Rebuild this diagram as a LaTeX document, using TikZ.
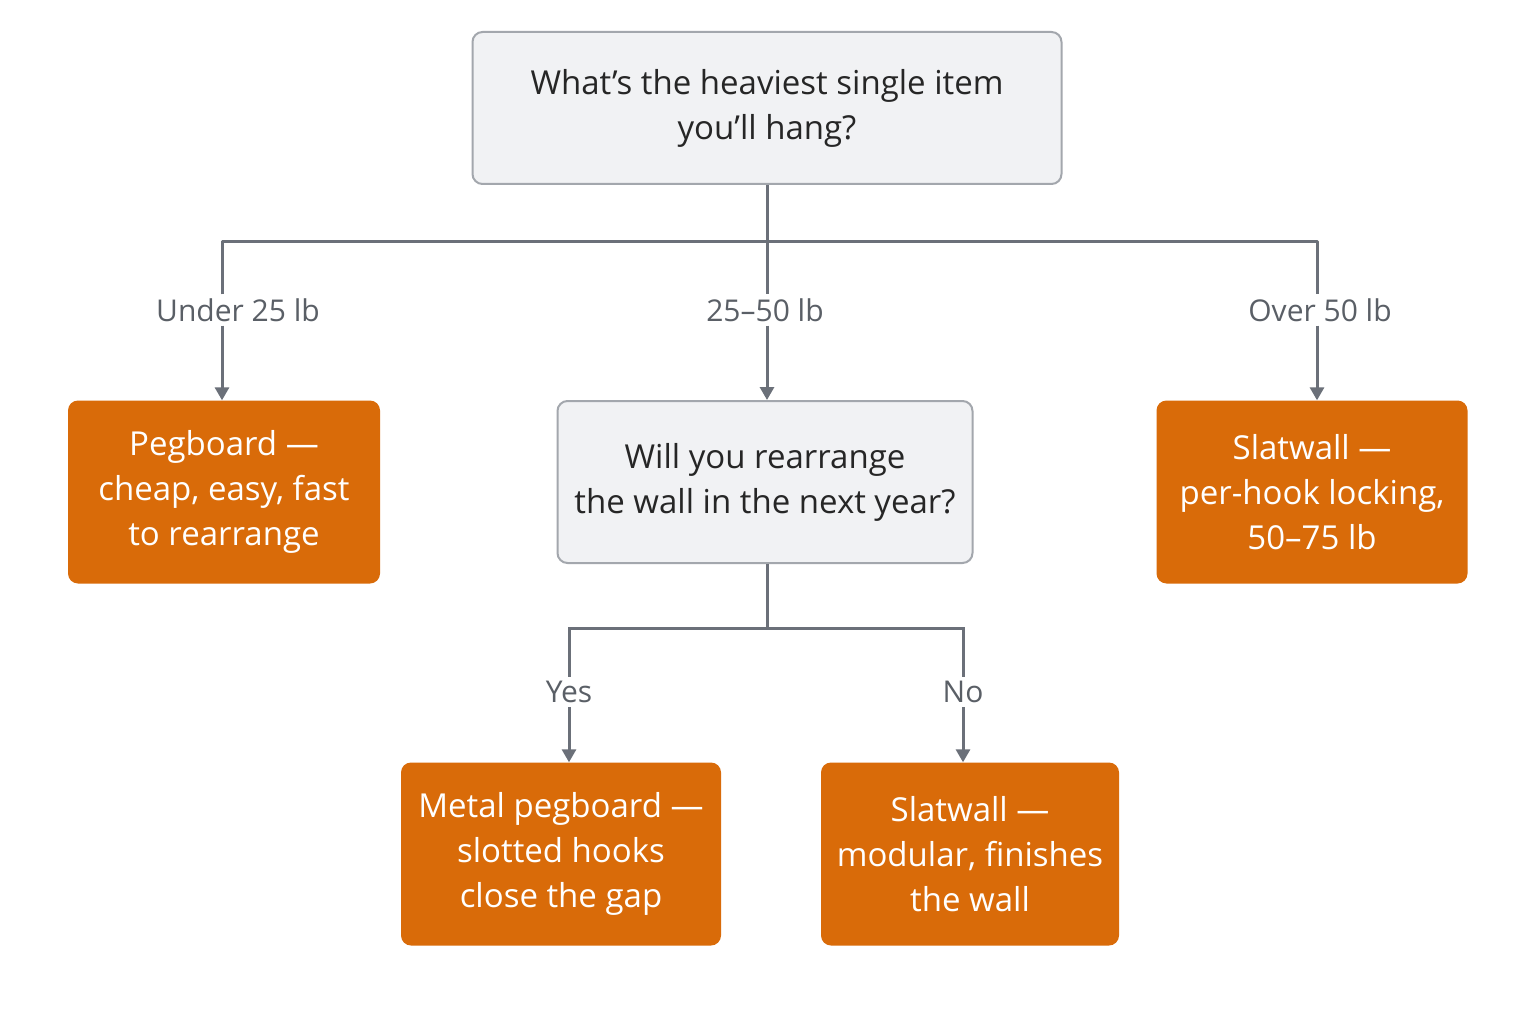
\documentclass[tikz,border=0pt]{standalone}
\usepackage{fontspec}
\setmainfont{Open Sans}
\usetikzlibrary{arrows.meta}
\definecolor{qfill}{HTML}{F1F2F4}
\definecolor{qline}{HTML}{A3A7AD}
\definecolor{ofill}{HTML}{D96B09}
\definecolor{conn}{HTML}{6B7079}
\definecolor{lbl}{HTML}{5A5F66}
\begin{document}
\begin{tikzpicture}[x=1pt,y=-1pt,
  q/.style={draw=qline,line width=2pt,fill=qfill,rounded corners=10pt,align=center,font=\fontsize{33}{45}\selectfont,text=black!85,inner sep=0pt},
  a/.style={fill=ofill,rounded corners=10pt,align=center,font=\fontsize{33}{45}\selectfont,text=white,inner sep=0pt},
  lab/.style={font=\fontsize{30}{36}\selectfont,text=lbl,inner sep=4pt},
  c/.style={draw=conn,line width=3pt},
  ar/.style={c,-{Triangle[length=13pt,width=14pt]}}]
\fill[white] (0,0) rectangle (1536,1024);
\useasboundingbox (0,0) rectangle (1536,1024);
\node[q,minimum width=589pt,minimum height=152pt] (top) at (767,108) {What’s the heaviest single item\\you’ll hang?};
\node[a,minimum width=312pt,minimum height=183pt] (peg) at (224,492) {Pegboard —\\cheap, easy, fast\\to rearrange};
\node[q,minimum width=415pt,minimum height=162pt] (mid) at (765,482) {Will you rearrange\\the wall in the next year?};
\node[a,minimum width=311pt,minimum height=183pt] (slat) at (1312,492) {Slatwall —\\per-hook locking,\\50–75 lb};
\node[a,minimum width=320pt,minimum height=183pt] (metal) at (561,854) {Metal pegboard —\\slotted hooks\\close the gap};
\node[a,minimum width=298pt,minimum height=183pt] (mod) at (970,854) {Slatwall —\\modular, finishes\\the wall};
\node[lab] (l1) at (238,310) {Under 25 lb};
\node[lab] (l2) at (765,310) {25–50 lb};
\node[lab] (l3) at (1320,310) {Over 50 lb};
\node[lab] (l4) at (569,692) {Yes};
\node[lab] (l5) at (963,692) {No};
\coordinate (j1) at (767,242);
\coordinate (jl) at (222,242);
\coordinate (jr) at (1317,242);
\coordinate (j2) at (767,628);
\coordinate (jy) at (569,628);
\coordinate (jn) at (963,628);
\draw[c] (top.south) -- (j1);
\draw[c,line join=round] (jl |- l1.north) -- (jl) -- (jr) -- (jr |- l3.north);
\draw[c] (j1) -- (l2.north -| j1);
\draw[ar] (l1.south -| jl) -- (peg.north -| jl);
\draw[ar] (l2.south -| j1) -- (mid.north -| j1);
\draw[ar] (l3.south -| jr) -- (slat.north -| jr);
\draw[c] (mid.south -| j2) -- (j2);
\draw[c] (jy |- l4.north) -- (jy) -- (jn) -- (jn |- l5.north);
\draw[ar] (l4.south) -- (metal.north -| jy);
\draw[ar] (l5.south) -- (mod.north -| jn);
\end{tikzpicture}
\end{document}
